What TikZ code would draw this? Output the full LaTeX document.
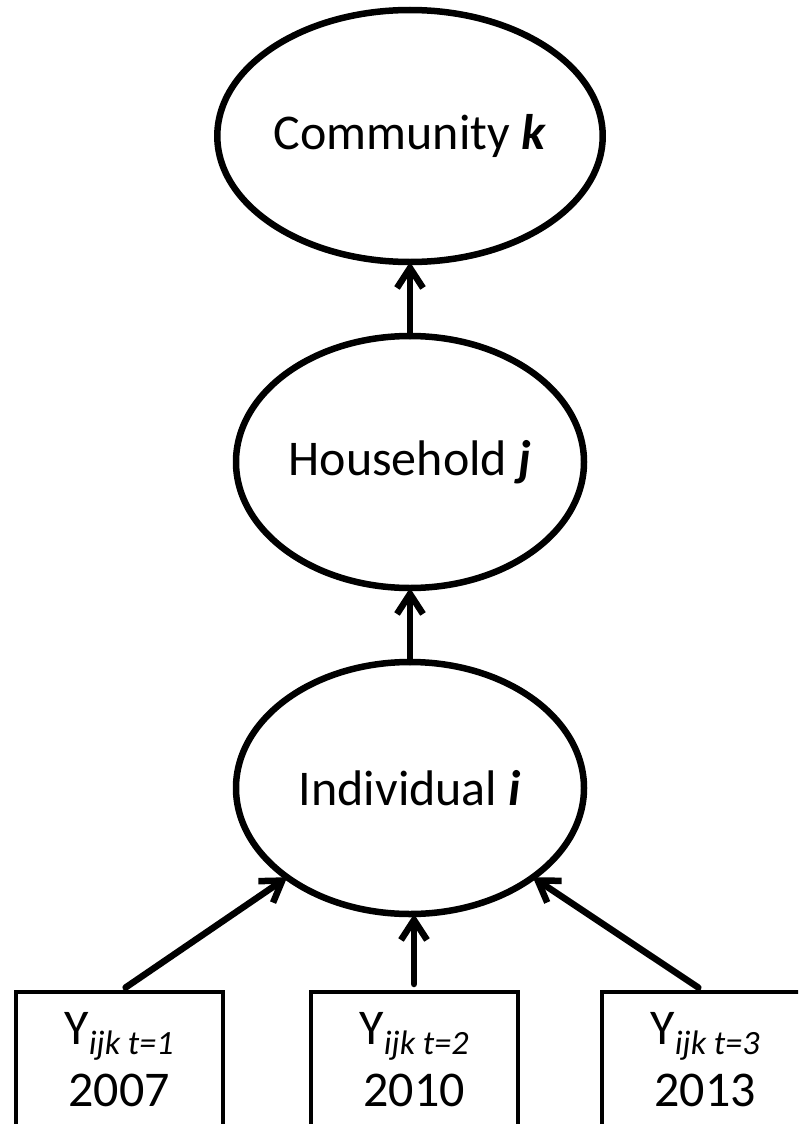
\documentclass[tikz,border=0pt]{standalone}
\usepackage{fontspec}
\setmainfont{Carlito}
\usetikzlibrary{shapes.geometric, arrows.meta, positioning}
\newcommand{\ysub}[1]{\raisebox{-10pt}{\fontsize{34}{34}\selectfont\itshape #1}}

\begin{document}
\begin{tikzpicture}[
    x=1pt, y=1pt,
    node distance=74pt,
    level/.style={
        ellipse, draw=black, line width=6.5pt, fill=white,
        minimum width=348pt, minimum height=252pt,
        inner sep=0pt, outer sep=0pt, align=center,
        font=\fontsize{50}{60}\selectfont
    },
    wave/.style={
        rectangle, draw=black, line width=4pt, fill=white,
        minimum width=207pt, minimum height=136pt,
        inner sep=0pt, outer sep=0pt, align=center,
        font=\fontsize{50}{62}\selectfont
    },
    arrow/.style={-{Straight Barb[length=20pt,width=26pt]}, line width=6.5pt, line cap=round}
]
\useasboundingbox (0,0) rectangle (798,-1124);
\clip (0,0) rectangle (798,-1124);

% Nodes
\node[level] (community) at (410,-136) {Community \textbf{\textit{k}}};
\node[level, below=of community] (household) {Household \textbf{\textit{j}}};
\node[level, below=of household] (individual) {Individual \textbf{\textit{i}}};

\node[wave, below=78pt of individual, xshift=4pt] (wave2) {Y\ysub{ijk t=2}\\2010};
\node[wave, left=88pt of wave2] (wave1) {Y\ysub{ijk t=1}\\2007};
\node[wave, right=84pt of wave2] (wave3) {Y\ysub{ijk t=3}\\2013};

% Paths
\draw[arrow] (household) -- (community);
\draw[arrow] (individual) -- (household);

\draw[arrow, shorten <=8pt] (wave1.north) -- (individual.216);
\draw[arrow, shorten <=8pt] (wave2.north) -- (wave2.north |- individual.south);
\draw[arrow, shorten <=8pt] (wave3.north) -- (individual.324);

\end{tikzpicture}
\end{document}
